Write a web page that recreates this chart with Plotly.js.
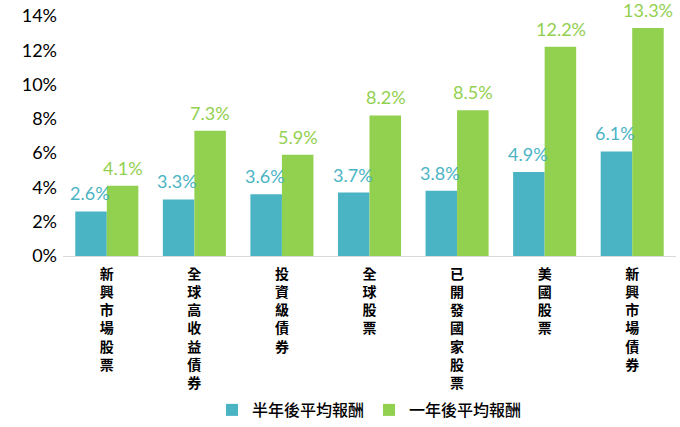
<!DOCTYPE html>
<html>
<head>
<meta charset="utf-8">
<script src="https://cdn.plot.ly/plotly-3.0.1.min.js"></script>
<style>html,body{margin:0;padding:0;background:#fff;}#chart{width:680px;height:427px;}</style>
</head>
<body>
<div id="chart"></div>
<script>
const categories = ["新興市場股票","全球高收益債券","投資級債券","全球股票","已開發國家股票","美國股票","新興市場債券"];
const halfYear = [2.6, 3.3, 3.6, 3.7, 3.8, 4.9, 6.1];
const oneYear = [4.1, 7.3, 5.9, 8.2, 8.5, 12.2, 13.3];
const seriesNames = ["半年後平均報酬","一年後平均報酬"];
const yTicks = [0, 2, 4, 6, 8, 10, 12, 14];

const tickText = categories.map(c => c.split("").join("<br>"));
const teal = "#4BB4C4";
const green = "#92D050";
const numFont = "Lato, 'Open Sans', sans-serif";
const cjkFont = "'Noto Sans CJK TC', 'Noto Sans CJK SC', sans-serif";

const traces = [
  {type:"bar", name:seriesNames[0], x:categories, y:halfYear, marker:{color:teal}, hoverinfo:"none"},
  {type:"bar", name:seriesNames[1], x:categories, y:oneYear, marker:{color:green}, hoverinfo:"none"}
];

const annotations = [];
categories.forEach((c, i) => {
  annotations.push({x:c, y:halfYear[i], xref:"x", yref:"y", text:halfYear[i].toFixed(1)+"%", showarrow:false,
    xanchor:"center", yanchor:"bottom", xshift:-17, yshift:5, font:{family:numFont, size:18, color:teal}});
  annotations.push({x:c, y:oneYear[i], xref:"x", yref:"y", text:oneYear[i].toFixed(1)+"%", showarrow:false,
    xanchor:"center", yanchor:"bottom", xshift:16, yshift:5, font:{family:numFont, size:18, color:green}});
});

const layout = {
  width:680, height:427,
  margin:{l:63, r:4, t:16, b:171},
  paper_bgcolor:"#fff", plot_bgcolor:"#fff",
  barmode:"group", bargap:0.28, bargroupgap:0,
  showlegend:true,
  annotations: annotations,
  legend:{orientation:"h", x:0.5, xanchor:"center", yref:"container", y:0.0, yanchor:"bottom",
          font:{family:cjkFont, size:16, color:"#000", weight:500}},
  xaxis:{type:"category", tickmode:"array", tickvals:categories, ticktext:tickText,
         tickfont:{family:cjkFont, size:14, color:"#000", weight:"bold"}, showline:true, linecolor:"#d9d9d9", linewidth:1,
         ticks:"", showgrid:false, tickangle:0, ticklabelstandoff:5},
  yaxis:{range:[0,14], tickmode:"array", tickvals:yTicks, ticktext:yTicks.map(v=>v+"%"),
         tickfont:{family:numFont, size:18, color:"#000"}, showgrid:false, zeroline:false, showline:false, ticks:"", ticklabelstandoff:5}
};

Plotly.newPlot("chart", traces, layout, {displayModeBar:false, staticPlot:true});
</script>
</body>
</html>
